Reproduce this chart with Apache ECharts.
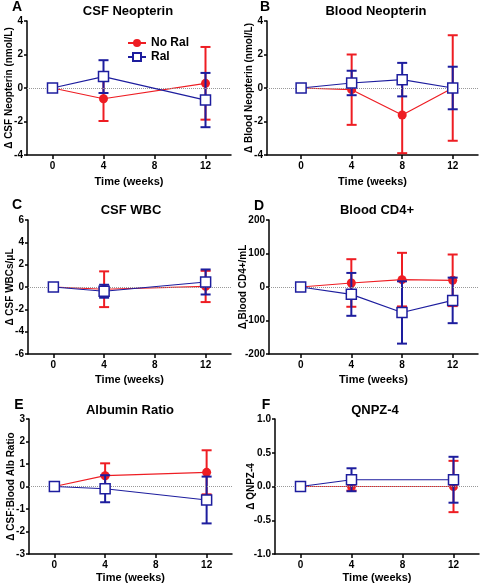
<!DOCTYPE html>
<html><head><meta charset="utf-8">
<script src="https://cdn.jsdelivr.net/npm/echarts@6/dist/echarts.min.js"></script>
<style>html,body{margin:0;padding:0;background:#fff}#c{width:480px;height:586px}</style>
</head><body><div id="c"></div><script>
const FONT = 'Arial, "Liberation Sans", sans-serif';
const RED = '#ee1d23', BLUE = '#1d1d9e';

const xTicks = [0, 4, 8, 12];
const seriesNames = ['No Ral', 'Ral'];

// A: CSF Neopterin
const weeksA = [0, 4, 12];
const noRalA = [0, -0.64, 0.28];
const noRalSdA = [0, 1.33, 2.17];
const ralA = [0, 0.68, -0.72];
const ralSdA = [0, 0.98, 1.62];
// B: Blood Neopterin
const weeksB = [0, 4, 8, 12];
const noRalB = [0, -0.1, -1.61, 0];
const noRalSdB = [0, 2.1, 2.28, 3.15];
const ralB = [0, 0.3, 0.5, 0];
const ralSdB = [0, 0.73, 1.0, 1.27];
// C: CSF WBC
const weeksC = [0, 4, 12];
const noRalC = [0, -0.2, 0.05];
const noRalSdC = [0, 1.6, 1.4];
const ralC = [0, -0.38, 0.45];
const ralSdC = [0, 0.58, 1.12];
// D: Blood CD4+
const weeksD = [0, 4, 8, 12];
const noRalD = [0, 12, 22, 20];
const noRalSdD = [0, 71, 80, 77];
const ralD = [0, -22, -76, -40];
const ralSdD = [0, 64, 93, 68];
// E: Albumin Ratio
const weeksE = [0, 4, 12];
const noRalE = [0, 0.48, 0.63];
const noRalSdE = [0, 0.55, 0.98];
const ralE = [0, -0.1, -0.6];
const ralSdE = [0, 0.6, 1.04];
// F: QNPZ-4
const weeksF = [0, 4, 12];
const noRalF = [0, 0, 0];
const noRalSdF = [0, 0.06, 0.38];
const ralF = [0, 0.1, 0.1];
const ralSdF = [0, 0.17, 0.34];

const panels = [
  {letter:'A', title:'CSF Neopterin', yname:'\u0394 CSF Neopterin (nmol/L)', weeks:weeksA, nr:noRalA, nrSd:noRalSdA, r:ralA, rSd:ralSdA,
   ymin:-4, ymax:4, yint:2, dec:0, xmin:-2, xmax:14,
   left:27, top:21, w:204, h:134, yGap:13, xGap:21, tx:128, ty:11, lx:17, ly:7},
  {letter:'B', title:'Blood Neopterin', yname:'\u0394 Blood Neopterin (nmol/L)', weeks:weeksB, nr:noRalB, nrSd:noRalSdB, r:ralB, rSd:ralSdB,
   ymin:-4, ymax:4, yint:2, dec:0, xmin:-2.7, xmax:14,
   left:267, top:21, w:211, h:134, yGap:13, xGap:21, tx:376, ty:11, lx:265, ly:7},
  {letter:'C', title:'CSF WBC', yname:'\u0394 CSF WBCs/\u03bcL', weeks:weeksC, nr:noRalC, nrSd:noRalSdC, r:ralC, rSd:ralSdC,
   ymin:-6, ymax:6, yint:2, dec:0, xmin:-2, xmax:14,
   left:28, top:220, w:203, h:134, yGap:13, xGap:20, tx:131, ty:210, lx:17, ly:205},
  {letter:'D', title:'Blood CD4+', yname:'\u0394 Blood CD4+/mL', weeks:weeksD, nr:noRalD, nrSd:noRalSdD, r:ralD, rSd:ralSdD,
   ymin:-200, ymax:200, yint:100, dec:0, xmin:-2.5, xmax:14,
   left:269, top:220, w:209, h:134, yGap:21, xGap:20, tx:377, ty:210, lx:259, ly:206},
  {letter:'E', title:'Albumin Ratio', yname:'\u0394 CSF:Blood Alb Ratio', weeks:weeksE, nr:noRalE, nrSd:noRalSdE, r:ralE, rSd:ralSdE,
   ymin:-3, ymax:3, yint:1, dec:0, xmin:-2, xmax:14,
   left:29, top:419, w:203, h:135, yGap:13, xGap:18, tx:130, ty:410, lx:19, ly:405},
  {letter:'F', title:'QNPZ-4', yname:'\u0394 QNPZ-4', weeks:weeksF, nr:noRalF, nrSd:noRalSdF, r:ralF, rSd:ralSdF,
   ymin:-1, ymax:1, yint:0.5, dec:1, xmin:-2, xmax:14,
   left:275, top:419, w:204, h:135, yGap:19, xGap:18, tx:375, ty:410, lx:266, ly:405}
];

function errRender(color) {
  return function (params, api) {
    const x = api.value(0), lo = api.value(1), hi = api.value(2);
    const a = api.coord([x, lo]), b = api.coord([x, hi]);
    const hw = 5;
    const st = {stroke: color, lineWidth: 2, fill: null};
    return {type: 'group', children: [
      {type: 'line', shape: {x1: a[0], y1: a[1], x2: b[0], y2: b[1]}, style: st},
      {type: 'line', shape: {x1: a[0] - hw, y1: a[1], x2: a[0] + hw, y2: a[1]}, style: st},
      {type: 'line', shape: {x1: b[0] - hw, y1: b[1], x2: b[0] + hw, y2: b[1]}, style: st}
    ]};
  };
}

const grids = [], xAxes = [], yAxes = [], series = [], graphics = [];
const axisLine = {onZero: false, lineStyle: {color: '#000', width: 1.5}};
const lbl = {color: '#000', fontSize: 10, fontWeight: 'bold', fontFamily: FONT};

panels.forEach((p, i) => {
  grids.push({left: p.left, top: p.top, width: p.w, height: p.h, containLabel: false, outerBoundsMode: 'none'});
  xAxes.push({
    type: 'value', gridIndex: i, min: p.xmin, max: p.xmax,
    name: 'Time (weeks)', nameLocation: 'middle', nameGap: p.xGap, nameMoveOverlap: false,
    nameTextStyle: {color: '#000', fontSize: 11, fontWeight: 'bold', fontFamily: FONT},
    axisLine: axisLine,
    axisTick: {show: true, customValues: xTicks, length: 4, lineStyle: {color: '#000', width: 1.5}},
    axisLabel: Object.assign({customValues: xTicks, margin: 6}, lbl),
    splitLine: {show: false}
  });
  yAxes.push({
    type: 'value', gridIndex: i, min: p.ymin, max: p.ymax, interval: p.yint,
    name: p.yname, nameLocation: 'middle', nameGap: p.yGap, nameRotate: 90, nameMoveOverlap: false,
    nameTextStyle: {color: '#000', fontSize: 10, fontWeight: 'bold', fontFamily: FONT, verticalAlign: 'bottom'},
    axisLine: axisLine,
    axisTick: {show: true, length: 3, lineStyle: {color: '#000', width: 1.5}},
    axisLabel: Object.assign({margin: 4, formatter: v => v.toFixed(p.dec)}, lbl),
    splitLine: {show: false}
  });
  // zero reference line
  series.push({
    type: 'line', xAxisIndex: i, yAxisIndex: i, data: [], z: 1, silent: true,
    markLine: {silent: true, symbol: 'none', label: {show: false},
      lineStyle: {type: 'dotted', color: '#999', width: 1}, data: [{yAxis: 0}]}
  });
  const mk = (w, m, sd) => w.map((x, j) => [x, m[j] - sd[j], m[j] + sd[j]]).filter((d, j) => sd[j] > 0);
  series.push({type: 'custom', name: 'No Ral SD', xAxisIndex: i, yAxisIndex: i, z: 2,
    renderItem: errRender(RED), encode: {x: 0, y: [1, 2]}, data: mk(p.weeks, p.nr, p.nrSd)});
  series.push({type: 'line', name: seriesNames[0], xAxisIndex: i, yAxisIndex: i, z: 3,
    data: p.weeks.map((x, j) => [x, p.nr[j]]),
    symbol: 'circle', symbolSize: 9, itemStyle: {color: RED},
    lineStyle: {color: RED, width: 1.2}});
  series.push({type: 'custom', name: 'Ral SD', xAxisIndex: i, yAxisIndex: i, z: 4,
    renderItem: errRender(BLUE), encode: {x: 0, y: [1, 2]}, data: mk(p.weeks, p.r, p.rSd)});
  series.push({type: 'line', name: seriesNames[1], xAxisIndex: i, yAxisIndex: i, z: 5,
    data: p.weeks.map((x, j) => [x, p.r[j]]),
    symbol: 'rect', symbolSize: 10, itemStyle: {color: '#fff', borderColor: BLUE, borderWidth: 1.5},
    lineStyle: {color: BLUE, width: 1.2}});
  graphics.push({type: 'text', x: p.tx, y: p.ty, style: {text: p.title, font: 'bold 13px ' + FONT,
    fill: '#000', textAlign: 'center', align: 'center', textVerticalAlign: 'middle', verticalAlign: 'middle'}});
  graphics.push({type: 'text', x: p.lx, y: p.ly, style: {text: p.letter, font: 'bold 14px ' + FONT,
    fill: '#000', textAlign: 'center', align: 'center', textVerticalAlign: 'middle', verticalAlign: 'middle'}});
});

const chart = echarts.init(document.getElementById('c'), null, {renderer: 'canvas'});
chart.setOption({
  animation: false,
  backgroundColor: '#fff',
  grid: grids, xAxis: xAxes, yAxis: yAxes, series: series,
  graphic: graphics,
  legend: {data: seriesNames, orient: 'vertical', left: 122, top: 32, itemWidth: 18, itemHeight: 10, itemGap: 2,
    textStyle: {color: '#000', fontSize: 12, fontWeight: 'bold', fontFamily: FONT}}
});
</script></body></html>
